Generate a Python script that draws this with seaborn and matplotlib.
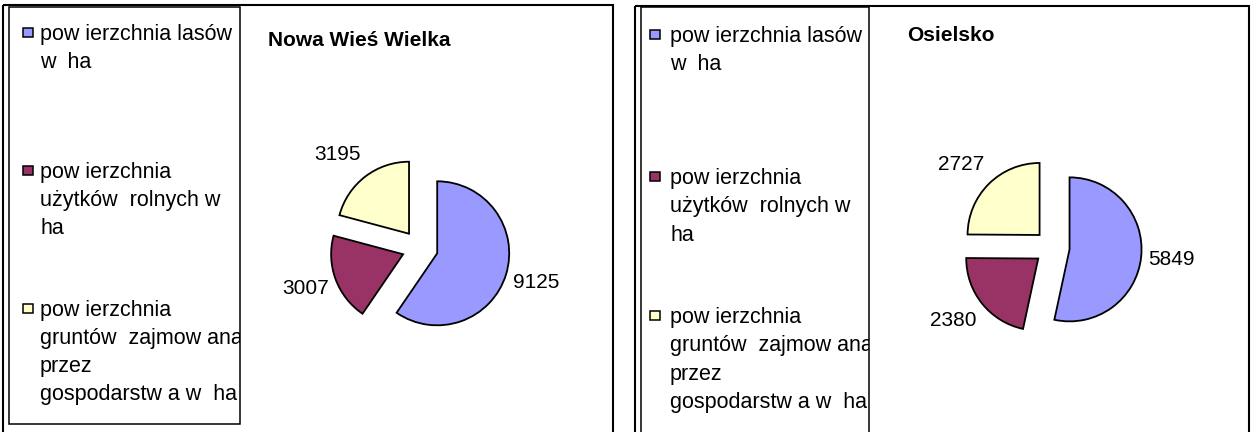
import matplotlib

matplotlib.use("Agg")

import matplotlib.pyplot as plt
import seaborn as sns
from matplotlib.patches import Rectangle
from matplotlib.transforms import Bbox, TransformedBbox


# dane
CATEGORIES = [
    "pow ierzchnia lasów\nw  ha",
    "pow ierzchnia\nużytków  rolnych w\nha",
    "pow ierzchnia\ngruntów  zajmow ana\nprzez\ngospodarstw a w  ha",
]
NOWA_WIES_VALUES = [9125, 3007, 3195]
OSIELSKO_VALUES = [5849, 2380, 2727]
TITLES = ["Nowa Wieś Wielka", "Osielsko"]
COLORS = ["#9999FF", "#993366", "#FFFFCC"]

W, H = 1256, 432
FONT = ["Liberation Sans", "DejaVu Sans"]

# uklad paneli w pikselach
PANELS = [
    dict(frame=(3, 5, 613), legend=(9, 7, 240, 424), marker_x=23, text_x=40,
         baselines=[40, 178, 316], step=28.0, title_xy=(268, 46),
         center=(420, 248), explode=0.25),
    dict(frame=(635, 6, 1249), legend=(641, 7, 869, 460), marker_x=650, text_x=670,
         baselines=[42, 184, 323], step=28.3, title_xy=(907, 41),
         center=(1052, 247.5), explode=0.245),
]
RADIUS_PX = 72


def draw_panel(fig, bg, cfg, values, title):
    fx0, fy0, fx1 = cfg["frame"]
    bg.add_patch(Rectangle((fx0, fy0), fx1 - fx0, 500, fill=False,
                           edgecolor="black", linewidth=1.5))
    lx0, ly0, lx1, ly1 = cfg["legend"]
    bg.add_patch(Rectangle((lx0, ly0), lx1 - lx0, ly1 - ly0, fill=False,
                           edgecolor="black", linewidth=1.1))
    clip = TransformedBbox(Bbox([[lx0, ly0], [lx1, ly1]]), bg.transData)

    # legenda
    palette = sns.color_palette(COLORS)
    for label, color, base in zip(CATEGORIES, palette, cfg["baselines"]):
        bg.add_patch(Rectangle((cfg["marker_x"], base - 12.5), 9.5, 9.5, facecolor=color,
                               edgecolor="black", linewidth=1.1))
        for k, line in enumerate(label.split("\n")):
            t = bg.text(cfg["text_x"], base + k * cfg["step"], line, fontsize=15.5,
                        family=FONT, ha="left", va="baseline", color="black")
            t.set_clip_box(clip)
            t.set_clip_on(True)

    bg.text(*cfg["title_xy"], title, fontsize=15, fontweight="bold", family=FONT,
            ha="left", va="baseline", color="black")

    # wykres kolowy
    cx, cy = cfg["center"]
    half = 2 * RADIUS_PX
    ax = fig.add_axes([(cx - half) / W, 1 - (cy + half) / H, 2 * half / W, 2 * half / H])
    wedges, texts = ax.pie(
        values,
        colors=palette,
        labels=[str(v) for v in values],
        startangle=90,
        counterclock=False,
        explode=[cfg["explode"]] * len(values),
        labeldistance=1.1,
        wedgeprops={"edgecolor": "black", "linewidth": 1.3},
        textprops={"fontsize": 15, "family": FONT, "color": "black"},
    )
    for t in texts:
        x, y = t.get_position()
        t.set_position((x, y * 1.21))
    ax.set_xlim(-2, 2)
    ax.set_ylim(-2, 2)
    ax.set_aspect("equal")
    ax.axis("off")


def main():
    sns.set_theme(style="white")
    plt.rcParams["font.family"] = FONT
    plt.rcParams["text.color"] = "black"

    fig = plt.figure(figsize=(W / 100, H / 100), dpi=100)
    fig.patch.set_facecolor("white")
    bg = fig.add_axes([0, 0, 1, 1])
    bg.set_xlim(0, W)
    bg.set_ylim(H, 0)
    bg.axis("off")

    for cfg, values, title in zip(PANELS, [NOWA_WIES_VALUES, OSIELSKO_VALUES], TITLES):
        draw_panel(fig, bg, cfg, values, title)

    fig.savefig("out.png", dpi=100)
    plt.close(fig)


if __name__ == "__main__":
    main()
